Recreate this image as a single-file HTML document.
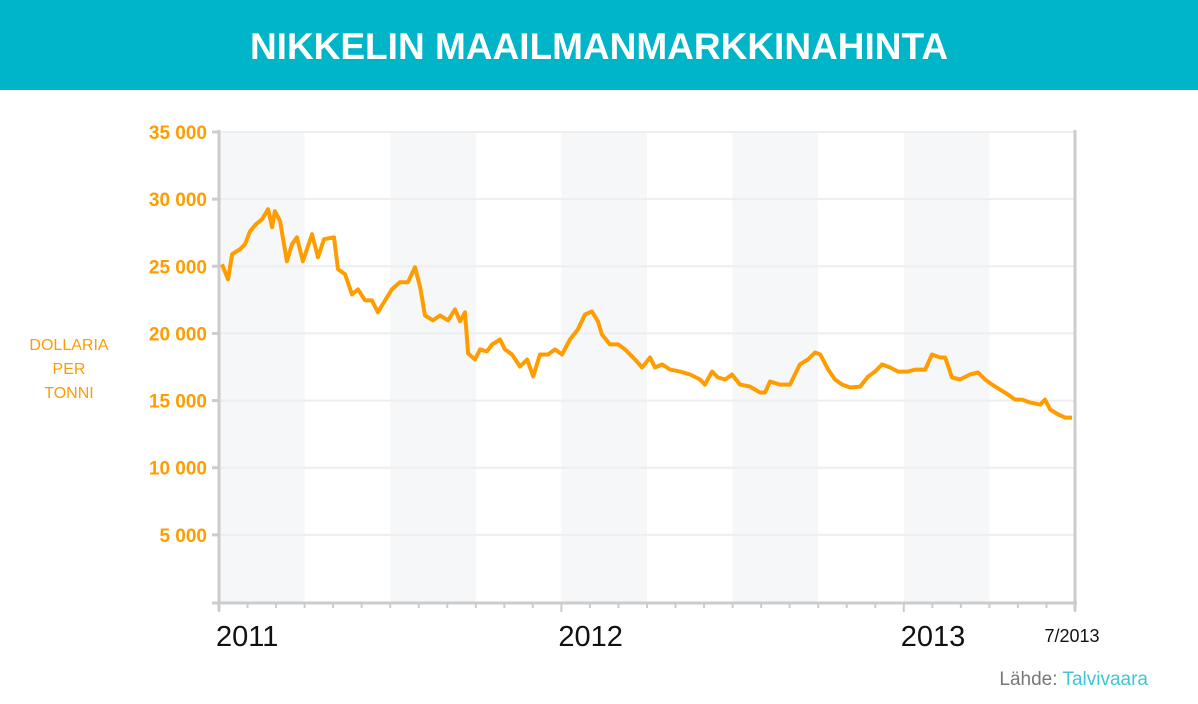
<!DOCTYPE html>
<html><head><meta charset="utf-8"><style>
body{margin:0;width:1198px;height:699px;background:#fff;overflow:hidden;font-family:"Liberation Sans",sans-serif}
</style></head><body>
<svg width="1198" height="699">
<rect x="0" y="0" width="1198" height="90" fill="#00b5c8"/>
<text x="599" y="59" text-anchor="middle" fill="#fff" font-size="37" font-weight="bold" font-family="Liberation Sans Narrow, Liberation Sans, sans-serif">NIKKELIN MAAILMANMARKKINAHINTA</text>
<g id="bands"></g><g id="grid"></g><g id="yl"></g><g id="xt"></g>
<path id="line" fill="none" stroke="#ff9c00" stroke-width="4" stroke-linejoin="round"/>
<line x1="219" y1="130" x2="219" y2="611" stroke="#ccc" stroke-width="3"/>
<line x1="1075" y1="130" x2="1075" y2="611" stroke="#ccc" stroke-width="3"/>
<line x1="212" y1="603" x2="1077" y2="603" stroke="#ccc" stroke-width="3"/>
<text x="69" y="350" text-anchor="middle" fill="#ff9c00" font-size="16"><tspan x="69">DOLLARIA</tspan><tspan x="69" dy="24">PER</tspan><tspan x="69" dy="24">TONNI</tspan></text>
<text x="1072" y="642" text-anchor="middle" font-size="18" fill="#111" font-family="Liberation Sans Narrow, Liberation Sans, sans-serif">7/2013</text>
<text x="1148" y="685" text-anchor="end" font-size="19" fill="#777">Lähde: <tspan fill="#3cc6d6">Talvivaara</tspan></text>
</svg>
<script>
const months=[0.1,0.32,0.46,0.74,0.91,1.09,1.3,1.51,1.72,1.86,1.96,2.14,2.38,2.56,2.73,2.94,3.26,3.47,3.68,4.03,4.17,4.42,4.66,4.87,5.12,5.36,5.57,5.82,6.06,6.34,6.62,6.87,7.05,7.22,7.5,7.75,8.03,8.27,8.45,8.62,8.73,8.97,9.15,9.39,9.57,9.85,10.02,10.27,10.55,10.8,11.01,11.25,11.53,11.78,12.02,12.3,12.58,12.83,13.07,13.28,13.42,13.7,13.99,14.23,14.58,14.83,15.11,15.28,15.53,15.81,16.16,16.51,16.86,17.03,17.28,17.49,17.74,17.98,18.26,18.61,18.96,19.14,19.31,19.66,20.01,20.36,20.64,20.89,21.07,21.35,21.59,21.84,22.12,22.47,22.75,22.99,23.24,23.52,23.8,24.15,24.4,24.75,24.99,25.27,25.45,25.69,25.97,26.32,26.6,26.85,27.09,27.37,27.65,27.9,28.15,28.43,28.78,28.95,29.13,29.41,29.65,29.9];
const prices=[25150,24030,25900,26270,26640,27610,28140,28510,29250,27910,29100,28360,25370,26640,27160,25370,27390,25670,27020,27160,24780,24400,22910,23280,22460,22460,21570,22460,23280,23810,23810,24930,23430,21340,20970,21340,20970,21790,20900,21570,18510,18060,18810,18660,19180,19550,18810,18430,17540,18060,16790,18430,18430,18810,18430,19550,20300,21420,21640,20900,19930,19180,19180,18810,18060,17460,18210,17460,17690,17310,17160,16940,16570,16190,17160,16720,16570,16940,16190,16040,15600,15600,16420,16190,16190,17690,18060,18580,18430,17310,16570,16190,15970,16040,16790,17160,17690,17460,17160,17160,17310,17310,18430,18210,18210,16720,16570,16940,17090,16570,16190,15820,15450,15070,15070,14850,14700,15070,14330,13960,13730,13730];
const yTicks=[5000,10000,15000,20000,25000,30000,35000];
const yTickLabels=["5 000","10 000","15 000","20 000","25 000","30 000","35 000"];
const yearLabels=["2011","2012","2013"];
const yearMonths=[0,12,24];
const totalMonths=30;
const NS="http://www.w3.org/2000/svg";
const X=m=>219+m*(1075-219)/totalMonths, Y=v=>602-v*(602-132)/35000;
function mk(t,a,p){const e=document.createElementNS(NS,t);for(const k in a)e.setAttribute(k,a[k]);document.getElementById(p).appendChild(e);return e;}
for(let m=0;m<totalMonths;m+=6){const b=mk('rect',{x:X(m),y:132,width:X(m+3)-X(m),height:470,fill:'#f5f7f9'},'bands');

}
yTicks.forEach((v,i)=>{const g=mk('line',{x1:219,x2:1075,y1:Y(v),y2:Y(v),stroke:'#eeeeee','stroke-width':2},'grid');


const tk=mk('line',{x1:212,x2:219,y1:Y(v),y2:Y(v),stroke:'#ccc','stroke-width':3},'grid');


const t=mk('text',{x:207,y:Y(v)+7,'text-anchor':'end',fill:'#ff9c00','font-size':19,'font-weight':'bold'},'yl');t.textContent=yTickLabels[i];

});
for(let m=0;m<=totalMonths;m++){const l=mk('line',{x1:X(m),x2:X(m),y1:603,y2:yearMonths.includes(m)||m==totalMonths?612:608,stroke:'#ccc','stroke-width':2},'xt');

}
yearLabels.forEach((s,i)=>{const t=mk('text',{x:X(yearMonths[i])-3,y:646,'font-size':29,fill:'#111','font-family':'Liberation Sans Narrow, Liberation Sans, sans-serif'},'xt');t.textContent=s;

});
document.getElementById('line').setAttribute('d',months.map((m,i)=>(i?'L':'M')+X(m).toFixed(1)+' '+Y(prices[i]).toFixed(1)).join(' '));
</script>
</body></html>
